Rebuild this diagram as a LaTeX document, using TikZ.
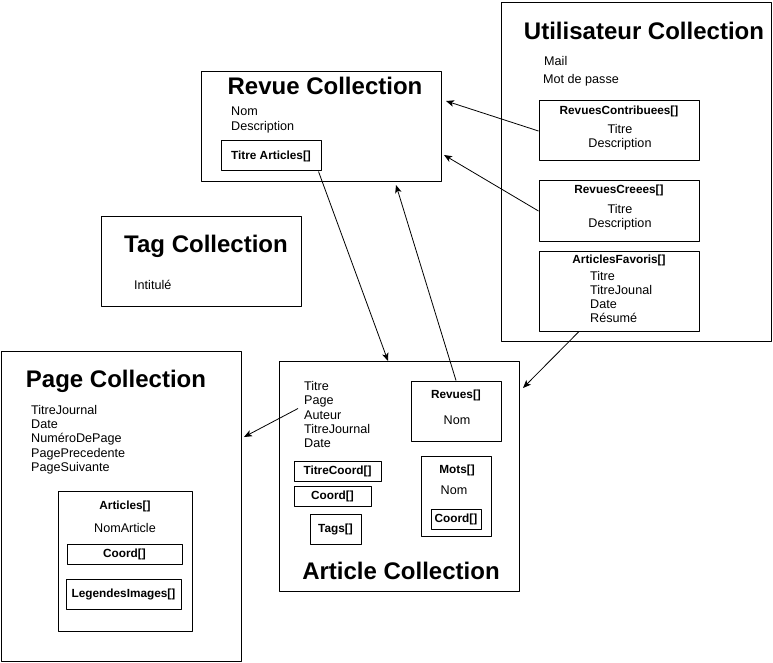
\documentclass[tikz,border=0pt]{standalone}
\usepackage{fontspec}
\setmainfont{Liberation Sans}
\usetikzlibrary{arrows.meta}
\begin{document}
\begin{tikzpicture}[x=1pt,y=-1pt,>={Stealth[length=8pt,width=6.5pt,inset=2pt]},line join=round,
	frame/.style={draw,line width=1pt,anchor=north west,inner sep=0pt},
	cell/.style={draw,line width=1pt,inner sep=0pt,font=\fontsize{11.8}{13}\selectfont\bfseries},
	ttl/.style={font=\fontsize{24}{28}\selectfont\bfseries,inner sep=0pt},
	attr/.style={font=\fontsize{12.6}{14.3}\selectfont,align=left,inner sep=0pt},
	hdr/.style={font=\fontsize{11.8}{13}\selectfont\bfseries,inner sep=0pt},
	link/.style={->,line width=0.8pt}]
	\useasboundingbox (0,0) rectangle (773,663);
	% Revue
	\node[frame,minimum width=240,minimum height=110] (revue) at (201,71) {};
	\node[ttl] (revueT) at (325,86) {Revue Collection};
	\node[attr,anchor=west] (revueA) at (231,120) {Nom\\Description};
	\node[cell,minimum width=100,minimum height=30] (titreart) at (271,156) {Titre Articles[]};
	% Utilisateur
	\node[frame,minimum width=270,minimum height=339] (user) at (501,2) {};
	\node[ttl] (userT) at (644,31) {Utilisateur Collection};
	\node[attr,anchor=west] (userA) at (544,61) {Mail};
	\node[attr,anchor=west] (userB) at (543,80) {Mot de passe};
	\node[cell,minimum width=160,minimum height=60] (contrib) at (619,131) {};
	\node[hdr] at (619,111) {RevuesContribuees[]};
	\node[attr,align=center] at (620,137.5) {Titre\\Description};
	\node[cell,minimum width=160,minimum height=60] (creees) at (619,211) {};
	\node[hdr] at (619,190) {RevuesCreees[]};
	\node[attr,align=center] at (620,217.5) {Titre\\Description};
	\node[cell,minimum width=160,minimum height=80] (favoris) at (619,291) {};
	\node[hdr] at (619,260) {ArticlesFavoris[]};
	\node[attr,anchor=west] at (590,297) {Titre\\TitreJounal\\Date\\Résumé};
	% Tag
	\node[frame,minimum width=200,minimum height=90] (tag) at (101,216) {};
	\node[ttl] (tagT) at (206,246) {Tag Collection};
	\node[attr,anchor=west] (tagA) at (134,285) {Intitulé};
	% Page
	\node[frame,minimum width=240,minimum height=310] (page) at (1,351) {};
	\node[ttl] (pageT) at (116,381) {Page Collection};
	\node[attr,anchor=west] (pageA) at (31,439.5) {TitreJournal\\Date\\NuméroDePage\\PagePrecedente\\PageSuivante};
	\node[cell,minimum width=134,minimum height=140] (pagearts) at (125,561) {};
	\node[hdr] at (125,506) {Articles[]};
	\node[attr] at (125,528) {NomArticle};
	\node[cell,minimum width=115,minimum height=20] (pagecoord) at (124.5,554) {Coord[]};
	\node[cell,minimum width=115,minimum height=30] (legendes) at (123.5,594) {LegendesImages[]};
	% Article
	\node[frame,minimum width=240,minimum height=230] (article) at (279,361) {};
	\node[ttl] (articleT) at (401,571) {Article Collection};
	\node[attr,anchor=west] (articleA) at (304,414.5) {Titre\\Page\\Auteur\\TitreJournal\\Date};
	\node[cell,minimum width=90,minimum height=60] (revues) at (456,411) {};
	\node[hdr] at (456,395) {Revues[]};
	\node[attr] at (457,420) {Nom};
	\node[cell,minimum width=87,minimum height=20] (titrecoord) at (337.5,471) {TitreCoord[]};
	\node[cell,minimum width=77,minimum height=20] (artcoord) at (332.5,496) {Coord[]};
	\node[cell,minimum width=51,minimum height=30] (tags) at (335.5,529) {Tags[]};
	\node[cell,minimum width=70,minimum height=80] (mots) at (456,496) {};
	\node[hdr] at (457,470) {Mots[]};
	\node[attr] at (454,490) {Nom};
	\node[cell,minimum width=50,minimum height=20] (motcoord) at (456,519) {Coord[]};
	% liens
	\draw[link] (contrib.west) -- ([shift={(4,30)}]revue.north east);
	\draw[link] (creees.west) -- ([shift={(2,84)}]revue.north east);
	\draw[link] ([xshift=-3]titreart.south east) -- ([xshift=109]article.north west);
	\draw[link] (revues.north) -- ([shift={(-46,3)}]revue.south east);
	\draw[link] ([xshift=-40]favoris.south) -- ([shift={(3,27)}]article.north east);
	\draw[link] ([shift={(-6,-6)}]articleA.west) -- ([shift={(2,86)}]page.north east);
\end{tikzpicture}
\end{document}
